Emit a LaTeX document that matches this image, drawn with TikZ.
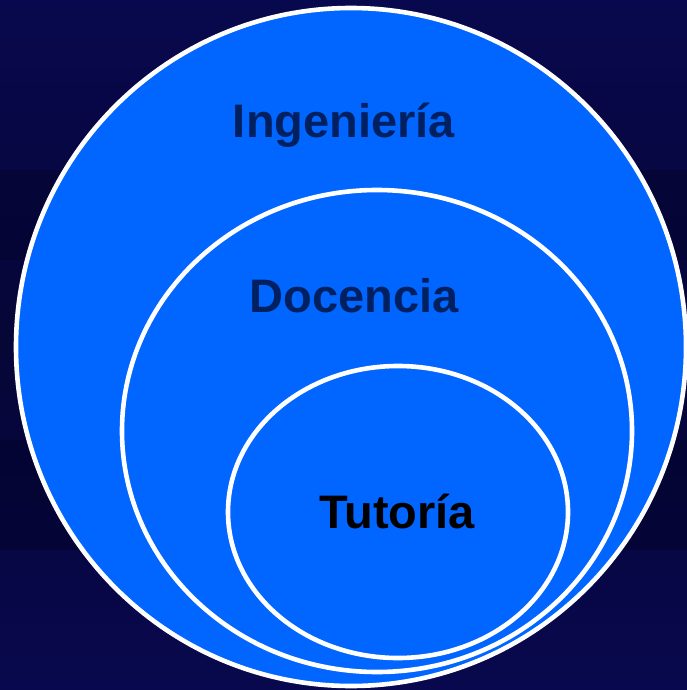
\documentclass[tikz,border=0pt]{standalone}
\usepackage{fontspec}
\usetikzlibrary{shapes.geometric}
\setmainfont{Liberation Sans}
\definecolor{bgnavy}{RGB}{8,8,78}
\definecolor{bgdark}{RGB}{2,2,40}
\definecolor{circfill}{RGB}{0,102,255}
\definecolor{labnavy}{RGB}{0,32,96}
\tikzset{
  ring/.style={draw=white, line width=4.6pt, fill=circfill},
  lab/.style={anchor=base, font=\bfseries\fontsize{47}{50}\selectfont, inner sep=0pt}
}
\begin{document}
\begin{tikzpicture}[x=1pt,y=-1pt]
\useasboundingbox (0,0) rectangle (687,690);
\shade[top color=bgnavy, bottom color=bgnavy!70!black] (0,0) rectangle (687,345);
\shade[top color=bgnavy!70!black, bottom color=bgnavy] (0,345) rectangle (687,690);
\fill[bgdark, opacity=0.35] (0,170) rectangle (687,260);
\fill[bgdark, opacity=0.45] (0,440) rectangle (687,550);
\node[ring, ellipse, minimum width=670pt, minimum height=678pt, inner sep=0pt] (ing) at (351,347) {};
\node[ring, ellipse, minimum width=510pt, minimum height=482pt, inner sep=0pt] (doc) at (377,431) {};
\node[ring, ellipse, minimum width=340pt, minimum height=292pt, inner sep=0pt] (tut) at (398,512) {};
\node[lab, text=labnavy] (tIng) at (344,137) {Ingeniería};
\node[lab, text=labnavy] (tDoc) at (354,312) {Docencia};
\node[lab, text=black] (tTut) at (397,528) {Tutoría};
\end{tikzpicture}
\end{document}
